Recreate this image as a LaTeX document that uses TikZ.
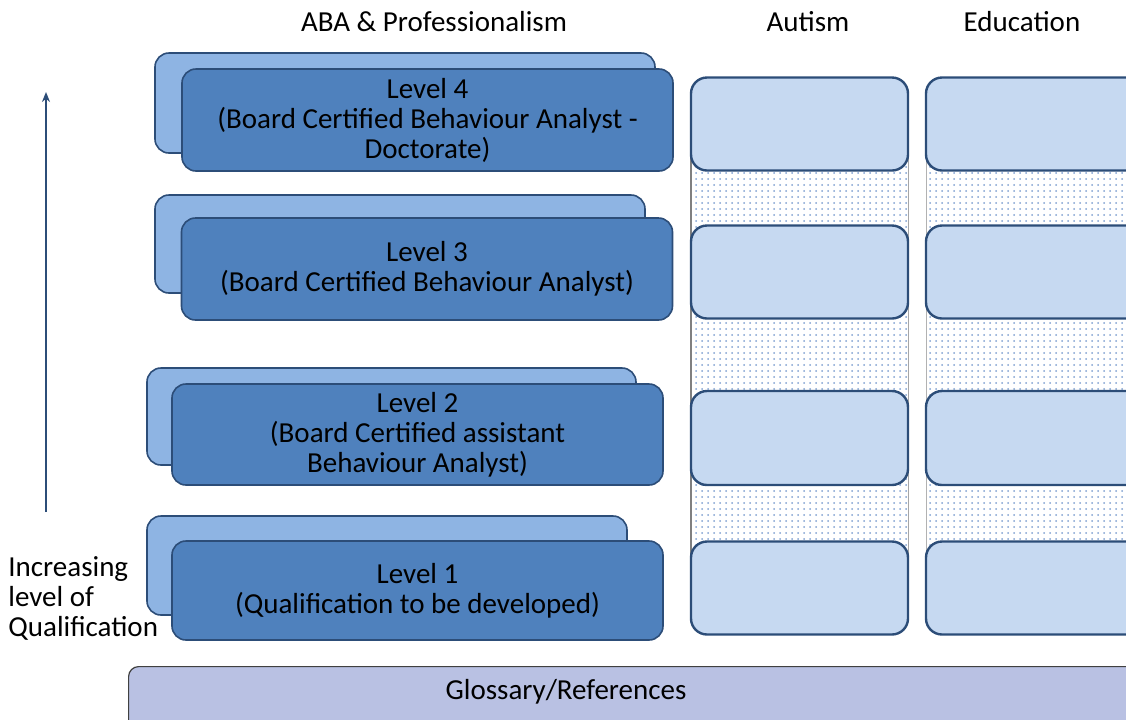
\documentclass[tikz,border=0pt]{standalone}
\usepackage{fontspec}
\setmainfont{Carlito}
\usetikzlibrary{positioning, patterns, arrows.meta}

\definecolor{levelblue}{HTML}{4F81BD}
\definecolor{backblue}{HTML}{8EB4E3}
\definecolor{frameblue}{HTML}{2C4D78}
\definecolor{paleblue}{HTML}{C6D9F1}
\definecolor{dotblue}{HTML}{7FA0D0}
\definecolor{glossblue}{HTML}{B9C1E3}

\begin{document}
\begin{tikzpicture}[
        x=0.5pt, y=-0.5pt,
        every node/.style={font=\fontsize{14.5}{15}\selectfont, inner sep=0pt},
        backbox/.style={
            rectangle, rounded corners=7pt, draw=frameblue, fill=backblue,
            line width=0.8pt
        },
        levelbox/.style={
            rectangle, rounded corners=7pt, draw=frameblue, fill=levelblue,
            line width=0.8pt, align=center, minimum width=245.5pt
        },
        areabox/.style={
            rectangle, rounded corners=8pt, draw=frameblue, fill=paleblue,
            line width=1.2pt, minimum width=108.5pt, minimum height=46.5pt
        },
        heading/.style={anchor=center},
        arrow/.style={-{Stealth[length=5pt,width=4pt]}, line width=1pt, color=frameblue}
    ]
        \useasboundingbox (0,0) rectangle (1126,719);
        \clip (0,0) rectangle (1126,719);

        % Column headings
        \node[heading] (hAba) at (434,22) {ABA \& Professionalism};
        \node[heading] (hAut) at (808,22) {Autism};
        \node[heading] (hEdu) at (1022,22) {Education};

        % Dotted bands behind the columns
        \fill[pattern=dots, pattern color=dotblue] (691,150) rectangle (908,560);
        \fill[pattern=dots, pattern color=dotblue] (926,150) rectangle (1140,560);
        \draw[gray, line width=0.6pt] (691,150) -- (691,560);
        \draw[gray!60, line width=0.4pt] (926,150) -- (926,560);
        \draw[gray!70, line width=0.4pt] (908,150) -- (908,560);

        % Back boxes
        \node[backbox, minimum width=250pt, minimum height=50pt] (back4) at (405,103) {};
        \node[backbox, minimum width=245pt, minimum height=49pt] (back3) at (400,244) {};
        \node[backbox, minimum width=244.5pt, minimum height=48.5pt] (back2) at (391.5,416.5) {};
        \node[backbox, minimum width=240pt, minimum height=49.5pt] (back1) at (387,565.5) {};

        % Level boxes
        \node[levelbox, minimum height=51pt] (lvl4) at (427.5,120)
            {Level 4\\(Board Certified Behaviour Analyst -\\Doctorate)};
        \node[levelbox, minimum height=51pt] (lvl3) at (427,269)
            {Level 3\\(Board Certified Behaviour Analyst)};
        \node[levelbox, minimum height=50.5pt] (lvl2) at (417.5,434.5)
            {Level 2\\(Board Certified assistant\\Behaviour Analyst)};
        \node[levelbox, minimum height=49.5pt] (lvl1) at (417.5,590.5)
            {Level 1\\(Qualification to be developed)};

        % Autism column
        \node[areabox] (aut4) at (799.5,124) {};
        \node[areabox] (aut3) at (799.5,272) {};
        \node[areabox, minimum height=47pt] (aut2) at (799.5,438) {};
        \node[areabox] (aut1) at (799.5,588) {};

        % Education column
        \node[areabox] (edu4) at (1034.5,124) {};
        \node[areabox] (edu3) at (1034.5,272) {};
        \node[areabox, minimum height=47pt] (edu2) at (1034.5,438) {};
        \node[areabox] (edu1) at (1034.5,588) {};

        % Qualification arrow
        \coordinate (arrLow) at (46,512);
        \coordinate (arrTop) at (46,92);
        \draw[arrow] (arrLow) -- (arrTop);
        \node[anchor=north west, align=left] (incr) at (8,556)
            {Increasing\\level of\\Qualification};

        % Glossary bar
        \node[rectangle, rounded corners=5pt, draw=black!75, fill=glossblue,
              line width=0.6pt, minimum width=510pt, minimum height=35pt,
              anchor=north west] (gloss) at (128,666) {};
        \node (glossText) at (566,692) {Glossary/References};

    \end{tikzpicture}
\end{document}
